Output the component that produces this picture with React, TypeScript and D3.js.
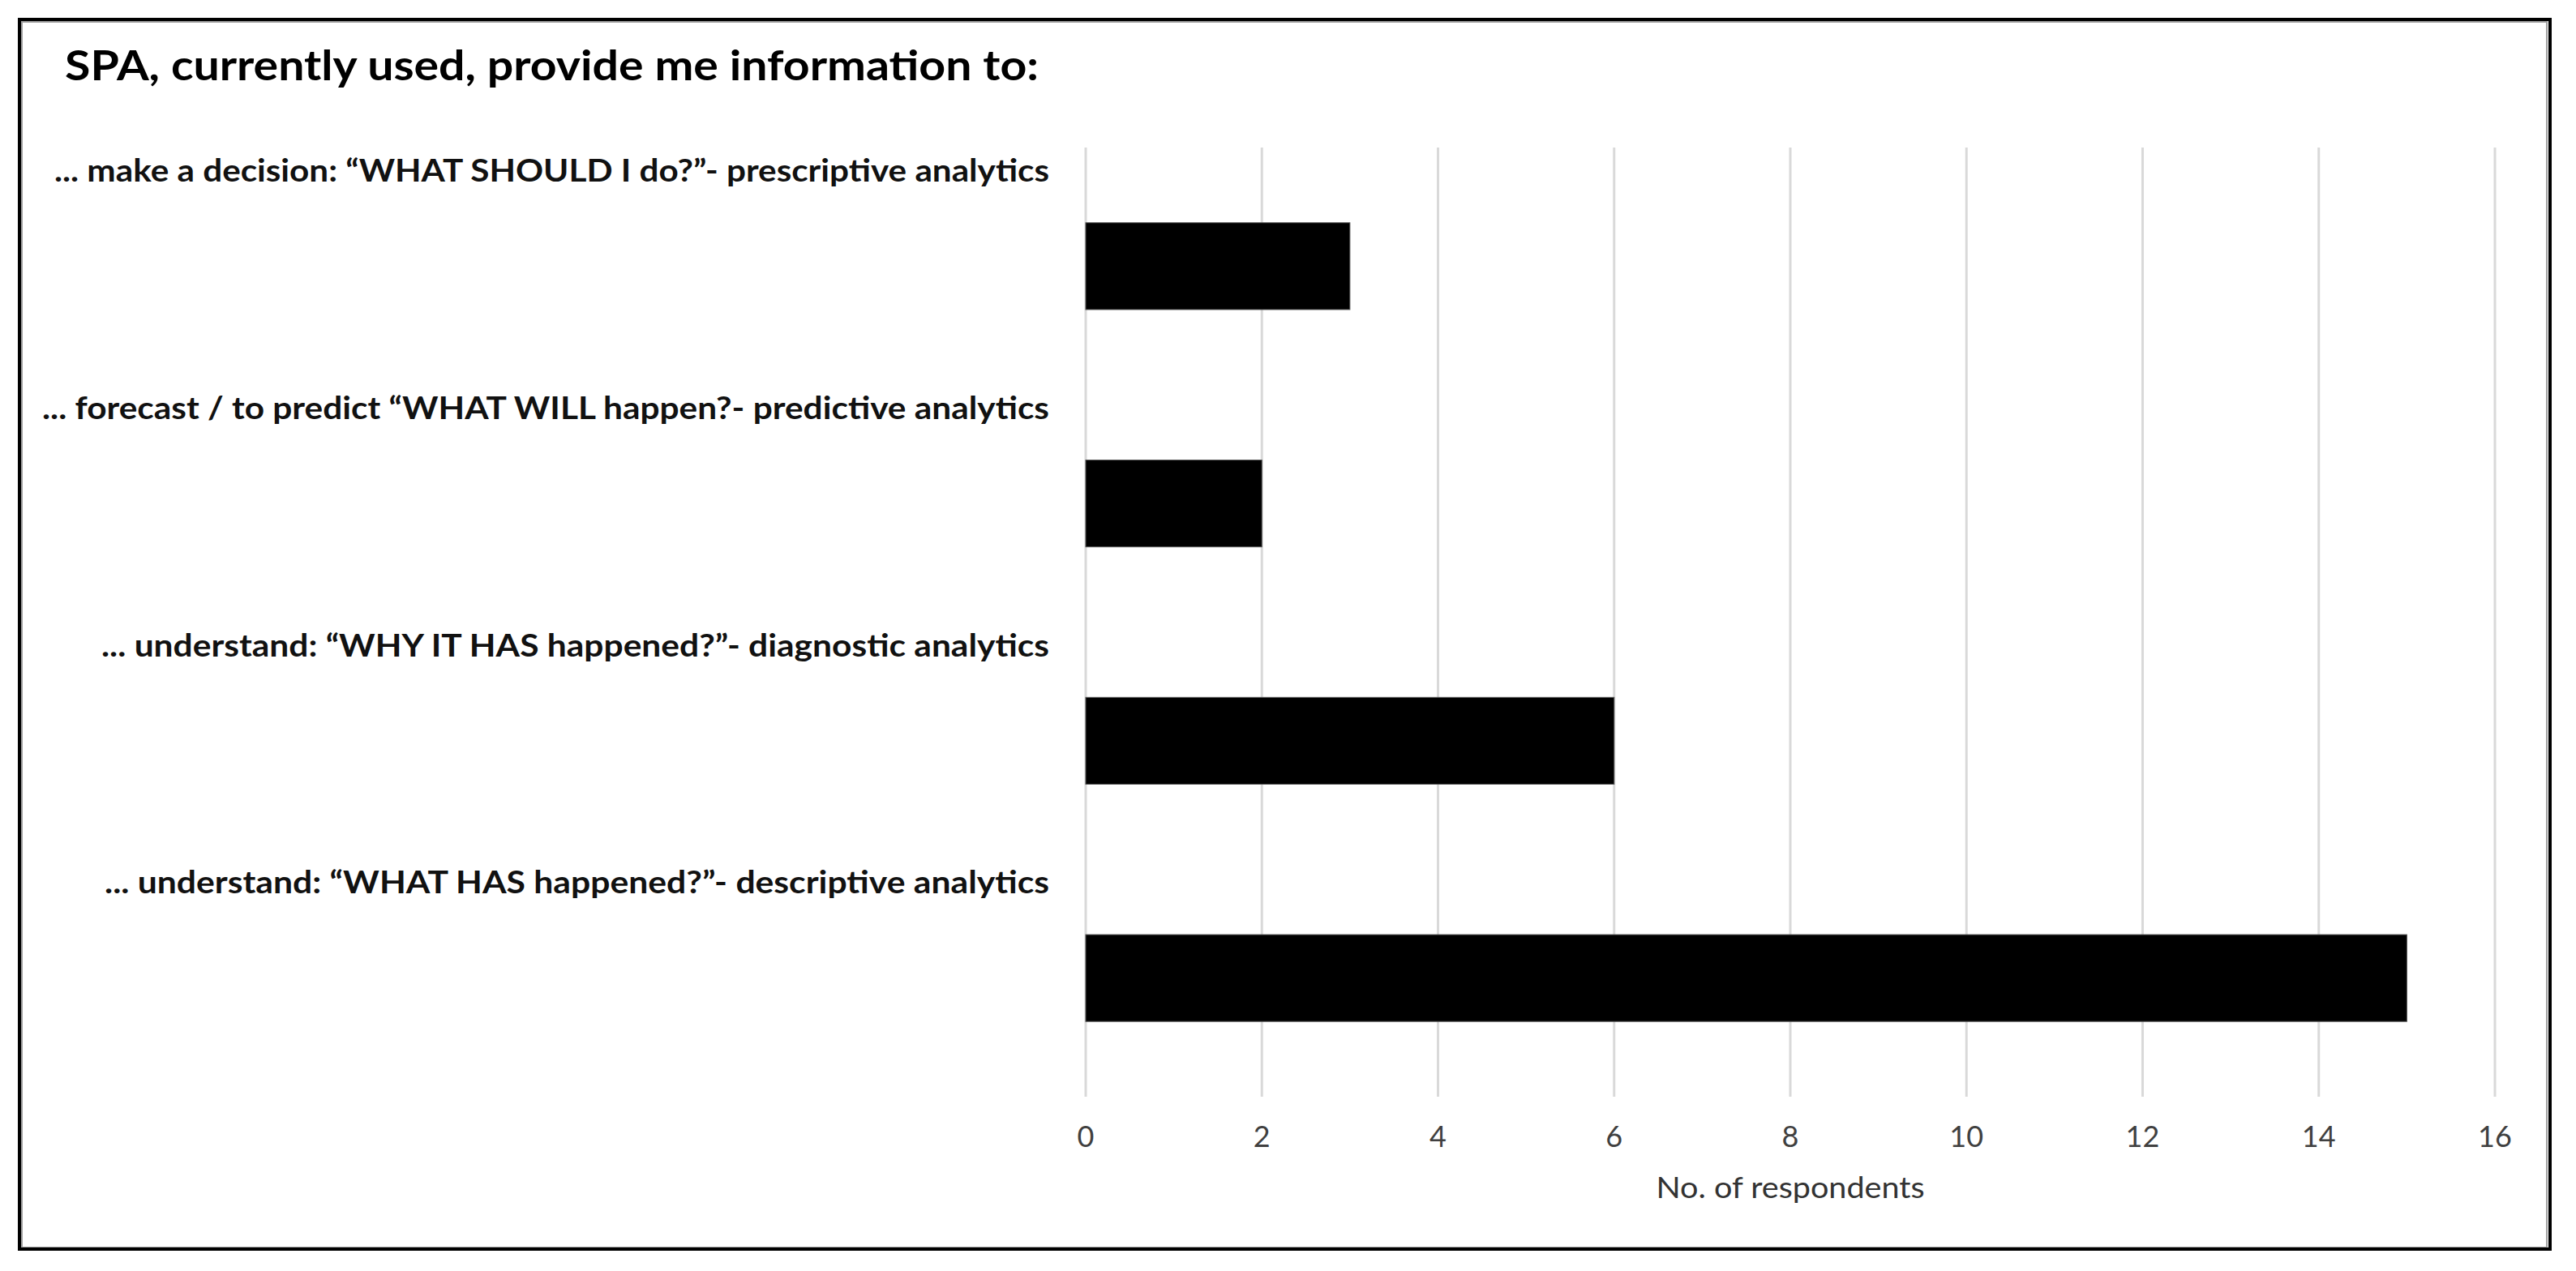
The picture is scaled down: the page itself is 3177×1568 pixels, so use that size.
import React from "react";
import * as d3 from "d3";

const titleText = "SPA, currently used, provide me information to:";
const categories = [
  "... make a decision: \u201CWHAT SHOULD I do?\u201D- prescriptive analytics",
  "... forecast / to predict \u201CWHAT WILL happen?- predictive analytics",
  "... understand: \u201CWHY IT HAS happened?\u201D- diagnostic analytics",
  "... understand: \u201CWHAT HAS happened?\u201D- descriptive analytics",
];
const values = [3, 2, 6, 15];
const xTicks = [0, 2, 4, 6, 8, 10, 12, 14, 16];
const xAxisTitle = "No. of respondents";

const W = 3177;
const H = 1568;
const FONT = "Lato, 'Open Sans', 'DejaVu Sans', sans-serif";

export default function App() {
  const plotLeft = 1339;
  const plotRight = 3077;
  const plotTop = 182;
  const plotBottom = 1353;

  const x = d3.scaleLinear().domain([0, 16]).range([plotLeft, plotRight]);
  const y = d3.scaleBand<string>().domain(categories).range([plotTop, plotBottom]).padding(0);
  const barH = y.bandwidth() * 0.366;

  const labelWidths = [1227, 1242, 1169, 1165];
  const labelRight = 1294;

  return (
    <svg
      width={W}
      height={H}
      style={{ position: "absolute", left: 0, top: 0, background: "#fff" }}
      fontFamily={FONT}
    >
      <rect x={0} y={0} width={W} height={H} fill="#fff" />
      {/* frame */}
      <rect x={27} y={27} width={3114} height={1512} fill="none" stroke="#a0a0a0" strokeWidth={2} />
      <rect x={24} y={24} width={3121} height={1517} fill="none" stroke="#000" strokeWidth={4} />

      {/* title */}
      <text x={80} y={99} fontSize={51} fontWeight={700} fill="#000" textLength={1201} lengthAdjust="spacingAndGlyphs">
        {titleText}
      </text>

      {/* gridlines */}
      {xTicks.map((t) => (
        <line key={"g" + t} x1={x(t)} x2={x(t)} y1={plotTop} y2={plotBottom} stroke="#d9d9d9" strokeWidth={3} />
      ))}

      {/* bars */}
      {categories.map((c, i) => {
        const cy = (y(c) as number) + y.bandwidth() / 2;
        return (
          <rect
            key={"b" + i}
            x={x(0)}
            y={cy - barH / 2}
            width={x(values[i]) - x(0)}
            height={barH}
            fill="#000"
            stroke="#555"
            strokeWidth={1}
          />
        );
      })}

      {/* category labels */}
      {categories.map((c, i) => (
        <text
          key={"l" + i}
          x={labelRight}
          y={(y(c) as number) + 42}
          textAnchor="end"
          fontSize={39}
          fontWeight={700}
          fill="#111"
          textLength={labelWidths[i]}
          lengthAdjust="spacingAndGlyphs"
        >
          {c}
        </text>
      ))}

      {/* tick labels */}
      {xTicks.map((t) => (
        <text key={"t" + t} x={x(t)} y={1415} textAnchor="middle" fontSize={36} fill="#404040">
          {t}
        </text>
      ))}

      {/* axis title */}
      <text x={(plotLeft + plotRight) / 2} y={1478} textAnchor="middle" fontSize={36} fill="#333" textLength={331} lengthAdjust="spacingAndGlyphs">
        {xAxisTitle}
      </text>
    </svg>
  );
}
